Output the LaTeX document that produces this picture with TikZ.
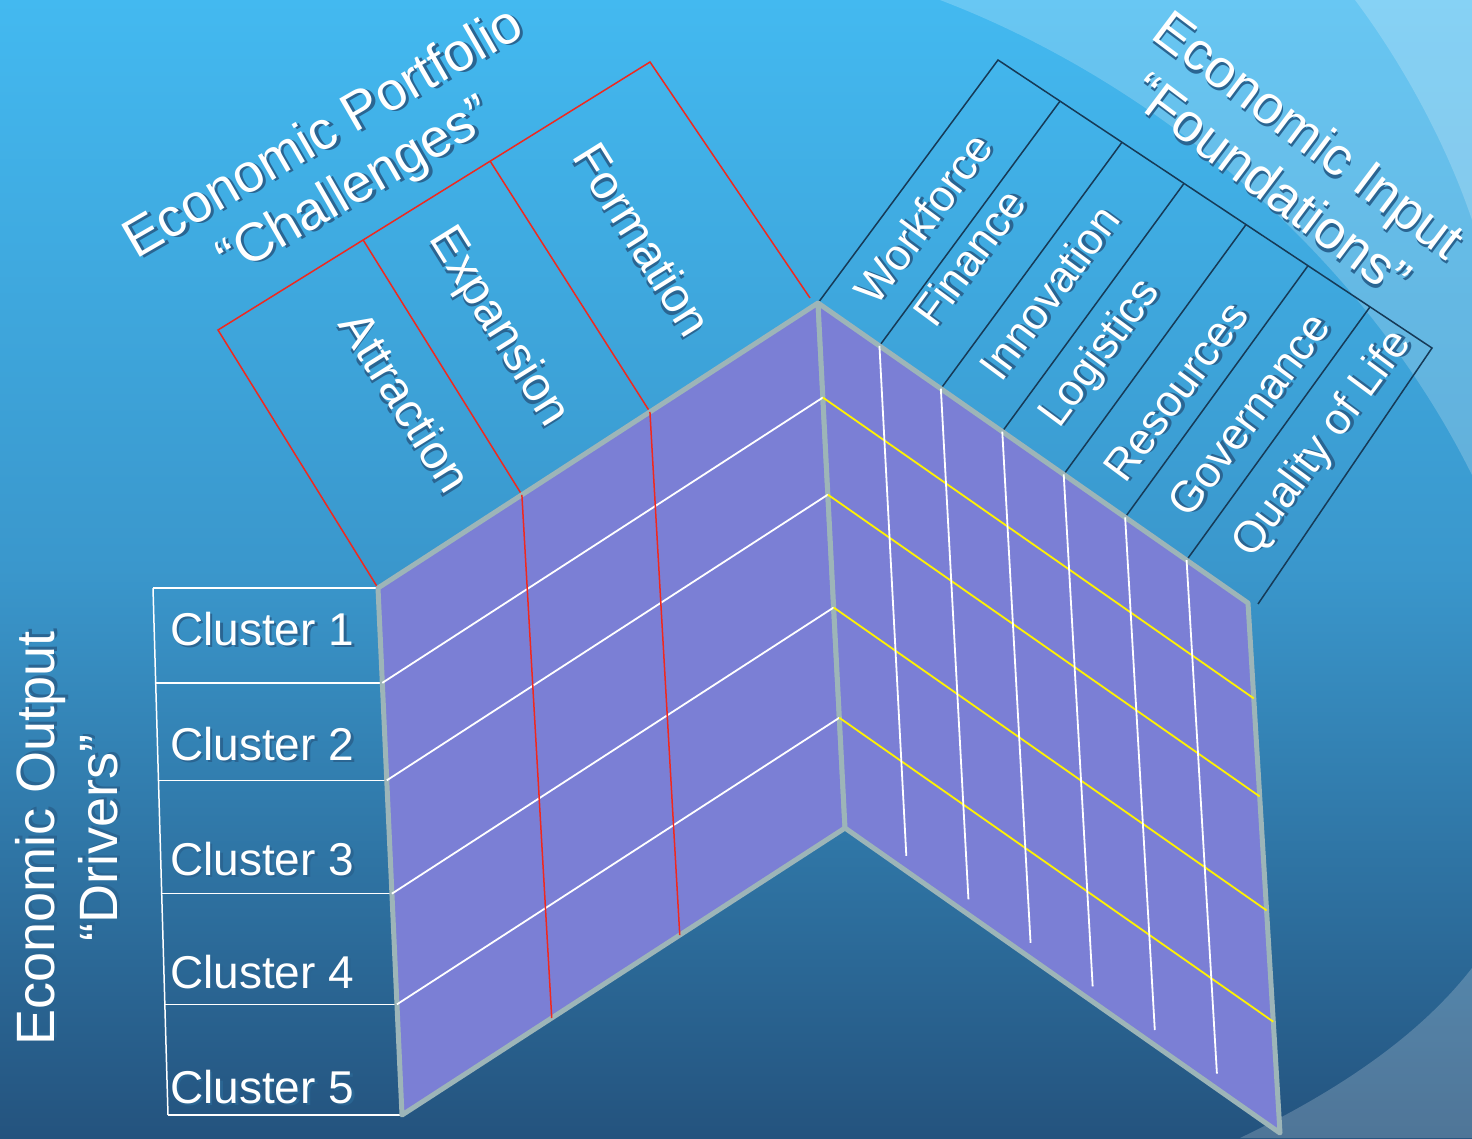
\documentclass[tikz,border=0pt]{standalone}
\usepackage{fontspec}
\setmainfont{Liberation Sans}
\usetikzlibrary{calc}

\definecolor{skytop}{HTML}{43B9F0}
\definecolor{skymid}{HTML}{3A97CC}
\definecolor{skybot}{HTML}{24537E}
\definecolor{panelfill}{HTML}{7B7FD5}
\definecolor{panelrim}{HTML}{9DB5B8}
\definecolor{redrule}{HTML}{F0281E}
\definecolor{darkrule}{HTML}{163A57}
\definecolor{gridyellow}{HTML}{FFF200}
\definecolor{shadowc}{HTML}{2A6592}

% white text with a small dark shadow behind it
\newcommand{\shtxt}[1]{\leavevmode\rlap{\raisebox{-2.5pt}{\kern2.5pt\textcolor{shadowc}{#1}}}\textcolor{white}{#1}}

\begin{document}
\begin{tikzpicture}[x=1pt,y=-1pt,
 panel/.style={fill=panelfill,draw=panelrim,line width=5pt,line join=round},
 rowline/.style={white,line width=1.8pt},
 yelline/.style={gridyellow,line width=1.8pt},
 colline/.style={white,line width=1.8pt},
 redline/.style={redrule,line width=1.5pt},
 darkline/.style={darkrule,line width=1.5pt},
 boxline/.style={white,line width=1.5pt},
 head/.style={font=\fontsize{54}{63}\selectfont,align=center,inner sep=0pt},
 cluster/.style={font=\fontsize{46}{50}\selectfont,inner sep=0pt,anchor=west},
 colname/.style={font=\fontsize{48}{50}\selectfont,inner sep=0pt},
 basename/.style={font=\fontsize{44}{48}\selectfont,inner sep=0pt}]

% background and swooshes
\shade[top color=skytop,bottom color=skybot,middle color=skymid] (0,0) rectangle (1472,1138);
\useasboundingbox (0,0) rectangle (1472,1138);
\fill[white,opacity=.2] (940,0) .. controls (1150,80) and (1360,250) .. (1472,475) -- (1472,0) -- cycle;
\fill[white,opacity=.2] (1355,0) .. controls (1400,60) and (1445,140) .. (1472,220) -- (1472,0) -- cycle;
\fill[white,opacity=.2] (1240,1138) .. controls (1340,1090) and (1420,1035) .. (1472,968) -- (1472,1138) -- cycle;

% corners of the two panels
\coordinate (la) at (378,588);
\coordinate (lb) at (818,303);
\coordinate (lc) at (845,828);
\coordinate (ld) at (402,1115);
\coordinate (rb) at (1248,603);
\coordinate (rc) at (1280,1133);

% challenge columns (red)
\coordinate (ea) at ($(la)!.327!(lb)$);
\coordinate (eb) at ($(la)!.618!(lb)$);
\coordinate (pa) at (218,330);
\coordinate (pb) at (650,62);
\coordinate (pe) at (810,298);
\draw[redline] (la) -- (pa) -- (pb) -- (pe);
\draw[redline] (ea) -- ($(pa)!.336!(pb)$);
\draw[redline] (eb) -- ($(pa)!.63!(pb)$);

% foundation columns (dark)
\coordinate (qa) at (998,60);
\coordinate (qb) at (1432,348);
\coordinate (qe) at (1258,604);
\draw[darkline] (lb) -- (qa) -- (qb) -- (qe);
\foreach \k in {1,...,6}{
 \coordinate (t\k) at ($(lb)!\k/7!(rb)$);
 \coordinate (b\k) at ($(lc)!\k/7!(rc)$);
 \draw[darkline] (t\k) -- ($(qa)!\k/7!(qb)$);
}

% cluster rows box
\coordinate (ca) at (153,588);
\coordinate (cd) at (168,1115);
\draw[boxline] (ca) -- (cd);
\foreach \f in {0,.18,.365,.58,.79,1}
 \draw[boxline] ($(ca)!\f!(cd)$) -- ($(la)!\f!(ld)$);

% panels
\draw[panel] (la) -- (lb) -- (lc) -- (ld) -- cycle;
\draw[panel] (lb) -- (rb) -- (rc) -- (lc) -- cycle;

% grid on the panels
\foreach \f in {.18,.365,.58,.79}{
 \draw[rowline] ($(la)!\f!(ld)$) -- ($(lb)!\f!(lc)$);
 \draw[yelline] ($(lb)!\f!(lc)$) -- ($(rb)!\f!(rc)$);
}
\foreach \k in {1,...,6}
 \draw[colline] (t\k) -- ($(t\k)!.97!(b\k)$);
\draw[redline] (ea) -- ($(ld)!.338!(lc)$);
\draw[redline] (eb) -- ($(ld)!.627!(lc)$);

% headings
\node[head,rotate=30] (portfolio) at (341,163) {\shtxt{Economic Portfolio}\\\shtxt{“Challenges”}};
\node[head,rotate=-37] (input) at (1290,160) {\shtxt{Economic Input}\\\shtxt{“Foundations”}};
\node[head,rotate=90] (output) at (68,838) {\shtxt{Economic Output}\\\shtxt{“Drivers”}};

% labels
\foreach \n/\y in {1/630,2/745,3/860,4/973,5/1088}
 \node[cluster] (cl\n) at (170,\y) {\shtxt{Cluster \n}};
\foreach \n/\x/\y in {Attraction/405/402,Expansion/497/328,Formation/642/240}
 \node[colname,rotate=-58] (\n) at (\x,\y) {\shtxt{\n}};
\foreach \key/\txt/\x/\y in {wf/Workforce/924/219,fi/Finance/970/258,in/Innovation/1050/293,
 lo/Logistics/1102/355,re/Resources/1177/392,go/Governance/1250/415,ql/Quality of Life/1324/445}
 \node[basename,rotate=53.5] (\key) at (\x,\y) {\shtxt{\txt}};
\end{tikzpicture}
\end{document}
